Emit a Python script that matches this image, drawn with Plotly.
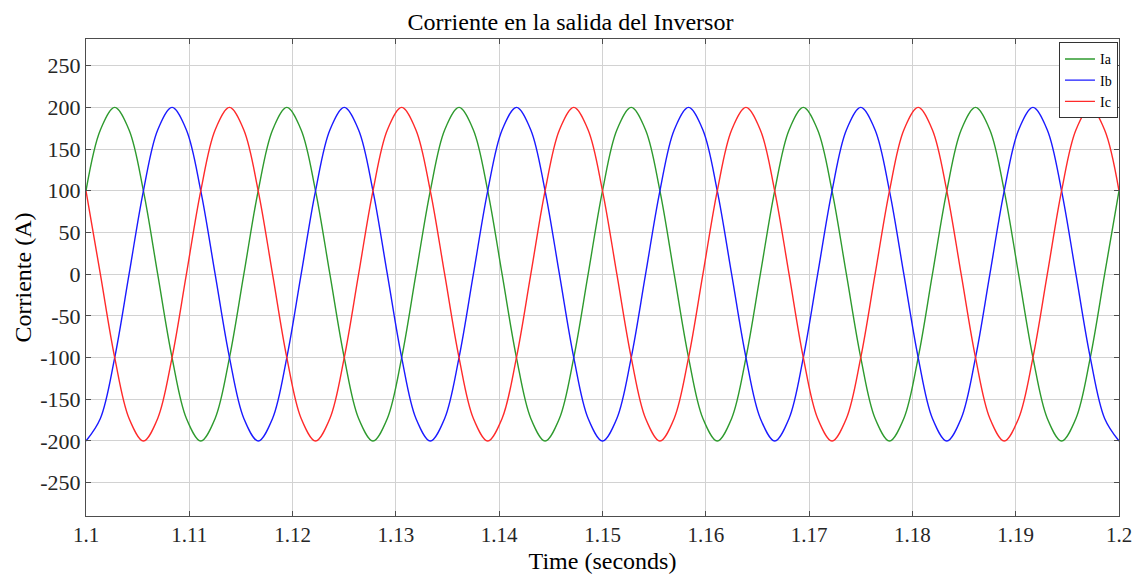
import plotly.graph_objects as go

# Time samples (s), read every 1/720 s
time_s = [1.1, 1.10139, 1.10278, 1.10417, 1.10556, 1.10694, 1.10833, 1.10972, 1.11111, 1.1125, 1.11389, 1.11528,
          1.11667, 1.11806, 1.11944, 1.12083, 1.12222, 1.12361, 1.125, 1.12639, 1.12778, 1.12917, 1.13056, 1.13194,
          1.13333, 1.13472, 1.13611, 1.1375, 1.13889, 1.14028, 1.14167, 1.14306, 1.14444, 1.14583, 1.14722, 1.14861,
          1.15, 1.15139, 1.15278, 1.15417, 1.15556, 1.15694, 1.15833, 1.15972, 1.16111, 1.1625, 1.16389, 1.16528,
          1.16667, 1.16806, 1.16944, 1.17083, 1.17222, 1.17361, 1.175, 1.17639, 1.17778, 1.17917, 1.18056, 1.18194,
          1.18333, 1.18472, 1.18611, 1.1875, 1.18889, 1.19028, 1.19167, 1.19306, 1.19444, 1.19583, 1.19722, 1.19861,
          1.2]

ia = [100, 173, 200, 173, 100, 0, -100, -173, -200, -173, -100, 0,
      100, 173, 200, 173, 100, 0, -100, -173, -200, -173, -100, 0,
      100, 173, 200, 173, 100, 0, -100, -173, -200, -173, -100, 0,
      100, 173, 200, 173, 100, 0, -100, -173, -200, -173, -100, 0,
      100, 173, 200, 173, 100, 0, -100, -173, -200, -173, -100, 0,
      100, 173, 200, 173, 100, 0, -100, -173, -200, -173, -100, 0,
      100]

ib = [-200, -173, -100, 0, 100, 173, 200, 173, 100, 0, -100, -173,
      -200, -173, -100, 0, 100, 173, 200, 173, 100, 0, -100, -173,
      -200, -173, -100, 0, 100, 173, 200, 173, 100, 0, -100, -173,
      -200, -173, -100, 0, 100, 173, 200, 173, 100, 0, -100, -173,
      -200, -173, -100, 0, 100, 173, 200, 173, 100, 0, -100, -173,
      -200, -173, -100, 0, 100, 173, 200, 173, 100, 0, -100, -173,
      -200]

ic = [100, 0, -100, -173, -200, -173, -100, 0, 100, 173, 200, 173,
      100, 0, -100, -173, -200, -173, -100, 0, 100, 173, 200, 173,
      100, 0, -100, -173, -200, -173, -100, 0, 100, 173, 200, 173,
      100, 0, -100, -173, -200, -173, -100, 0, 100, 173, 200, 173,
      100, 0, -100, -173, -200, -173, -100, 0, 100, 173, 200, 173,
      100, 0, -100, -173, -200, -173, -100, 0, 100, 173, 200, 173,
      100]

series_names = ["Ia", "Ib", "Ic"]
series_colors = ["#2e9a2e", "#1a1aff", "#ff2a2a"]
x_ticks = [1.1, 1.11, 1.12, 1.13, 1.14, 1.15, 1.16, 1.17, 1.18, 1.19, 1.2]
x_tick_text = ["1.1", "1.11", "1.12", "1.13", "1.14", "1.15", "1.16", "1.17", "1.18", "1.19", "1.2"]
y_ticks = [-250, -200, -150, -100, -50, 0, 50, 100, 150, 200, 250]
y_tick_text = ["-250", "-200", "-150", "-100", "-50", "0", "50", "100", "150", "200", "250"]

FONT = "Liberation Serif, Times New Roman, serif"

fig = go.Figure()
for name, vals, col in zip(series_names, [ia, ib, ic], series_colors):
    fig.add_trace(go.Scatter(x=time_s, y=vals, mode="lines", name=name,
                             line=dict(color=col, width=1.4, shape="spline", smoothing=1.0)))

axis_common = dict(showline=True, linecolor="#4d4d4d", linewidth=1, mirror="ticks",
                   ticks="inside", ticklen=5, tickcolor="#4d4d4d",
                   showgrid=True, gridcolor="#d2d2d2", gridwidth=1, zeroline=False,
                   automargin=False)

fig.update_xaxes(range=[1.1, 1.2], tickvals=x_ticks, ticktext=x_tick_text,
                 tickfont=dict(family=FONT, size=21, color="#262626"),
                 title=dict(text="Time (seconds)", font=dict(family=FONT, size=24, color="#000"), standoff=5),
                 **axis_common)
fig.update_yaxes(range=[-290, 282], tickvals=y_ticks, ticktext=y_tick_text,
                 tickfont=dict(family=FONT, size=22, color="#262626"),
                 title=dict(text="Corriente (A)", font=dict(family=FONT, size=24, color="#000"), standoff=1),
                 **axis_common)

fig.update_layout(
    width=1141, height=579,
    margin=dict(l=86, r=22, t=39, b=63),
    paper_bgcolor="white", plot_bgcolor="white",
    title=dict(text="Corriente en la salida del Inversor", x=0.5, xanchor="center",
               y=0.962, yanchor="middle",
               font=dict(family=FONT, size=24, color="#000")),
    legend=dict(x=0.999, y=0.993, xanchor="right", yanchor="top",
                bordercolor="#333", borderwidth=1, bgcolor="white",
                font=dict(family=FONT, size=14, color="#000"),
                itemwidth=30, tracegroupgap=0),
    showlegend=True,
)

fig.write_html("out.html", config={"displayModeBar": False})

# remove the default page margin so the figure sits at the window origin
with open("out.html", "r", encoding="utf-8") as f:
    html = f.read()
html = html.replace("<head>", "<head><style>html,body{margin:0;padding:0;}</style>", 1)
with open("out.html", "w", encoding="utf-8") as f:
    f.write(html)
